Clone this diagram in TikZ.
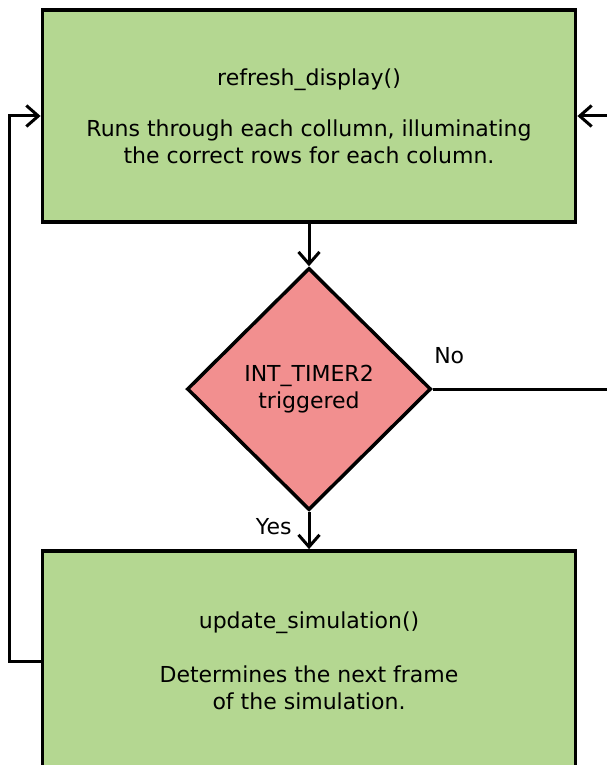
\documentclass[tikz,border=0pt]{standalone}
\usepackage{fontspec}
\setmainfont{DejaVu Sans}
\usetikzlibrary{shapes.geometric,arrows.meta}
\definecolor{boxgreen}{RGB}{180,215,145}
\definecolor{testred}{RGB}{242,143,143}

\begin{document}
\begin{tikzpicture}[x=1pt, y=-1pt, line width=3pt,
    >={Straight Barb[length=12pt,width=21pt]},
    every node/.style={font=\fontsize{22}{27}\selectfont},
    funcbox/.style={draw, line width=3.8pt, fill=boxgreen, minimum width=533pt, align=center, inner sep=0pt},
    testbox/.style={diamond, draw, line width=3.5pt, fill=testred, minimum width=244pt, minimum height=242pt, align=center, inner sep=0pt}]
    \clip (0,0) rectangle (607,765);
    \node[funcbox, minimum height=212pt] (refresh) at (309,116) {refresh\_display()\\[24pt]Runs through each collumn, illuminating\\the correct rows for each column.};
    \node[testbox] (timer) at (309,389) {INT\_TIMER2\\triggered};
    \node[funcbox, minimum height=220pt] (update) at (309,661) {update\_simulation()\\[27pt]Determines the next frame\\of the simulation.};
    \coordinate (loopl) at (9,0);
    \coordinate (loopr) at (612,116);
    \coordinate (noend) at (612,389);
    \draw[->] (refresh) -- (timer);
    \draw[->] (timer) -- node[pos=0.4, left=16pt, inner sep=0pt] (yes) {Yes} (update);
    \draw (timer.east) -- node[pos=0, anchor=south west, inner sep=0pt, yshift=24pt] (no) {No} (noend);
    \draw[->] (update.west) -- (update.west -| loopl) -- (refresh.west -| loopl) -- (refresh.west);
    \draw[->] (loopr) -- (refresh.east);
\end{tikzpicture}
\end{document}
